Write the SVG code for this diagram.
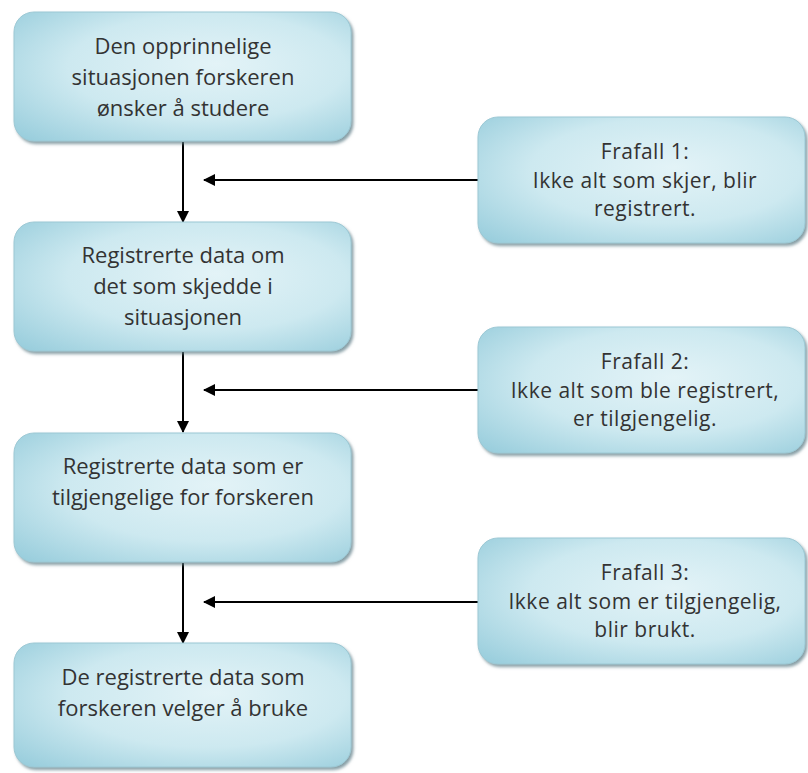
<svg xmlns="http://www.w3.org/2000/svg" width="808" height="773" viewBox="0 0 808 773">
  <defs>
    <radialGradient id="boxFill" cx="0.55" cy="0.45" r="0.75" fx="0.6" fy="0.4">
      <stop offset="0" stop-color="#e3f3f7"/>
      <stop offset="0.55" stop-color="#cde9f0"/>
      <stop offset="1" stop-color="#98cddc"/>
    </radialGradient>
    <filter id="shadow" x="-5%" y="-5%" width="112%" height="115%">
      <feDropShadow dx="2" dy="2.5" stdDeviation="1.5" flood-color="#5f7f88" flood-opacity="0.75"/>
    </filter>
    <marker id="arrow" viewBox="0 0 12 12" refX="11" refY="6" markerWidth="12" markerHeight="12" markerUnits="userSpaceOnUse" orient="auto">
      <path d="M0,0 L12,6 L0,12 z" fill="#000"/>
    </marker>
  </defs>
  <style>
    .box { fill: url(#boxFill); stroke: #9cc8d4; stroke-width: 1; filter: url(#shadow); }
    .label { font-family: "Open Sans", "Liberation Sans", sans-serif; font-size: 22px; fill: #333; text-anchor: middle; }
    .side { font-size: 21px; letter-spacing: 0.5px; }
    .conn { stroke: #000; stroke-width: 2; fill: none; marker-end: url(#arrow); }
  </style>
  <rect width="808" height="773" fill="#fff"/>

  <g id="connectors">
    <line class="conn" x1="183" y1="142" x2="183" y2="222"/>
    <line class="conn" x1="183" y1="352" x2="183" y2="432"/>
    <line class="conn" x1="183" y1="563" x2="183" y2="643"/>
    <line class="conn" x1="478" y1="180" x2="204" y2="180"/>
    <line class="conn" x1="478" y1="390" x2="204" y2="390"/>
    <line class="conn" x1="478" y1="602" x2="204" y2="602"/>
  </g>

  <g id="node-situasjon">
    <rect class="box" x="14" y="12" width="337" height="129" rx="20"/>
    <text class="label"><tspan x="183" y="54">Den opprinnelige</tspan><tspan x="183" y="85">situasjonen forskeren</tspan><tspan x="183" y="116">ønsker å studere</tspan></text>
  </g>

  <g id="node-registrert">
    <rect class="box" x="14" y="222" width="337" height="129" rx="20"/>
    <text class="label"><tspan x="183" y="263">Registrerte data om</tspan><tspan x="183" y="294">det som skjedde i</tspan><tspan x="183" y="325">situasjonen</tspan></text>
  </g>

  <g id="node-tilgjengelig">
    <rect class="box" x="14" y="433" width="337" height="129" rx="20"/>
    <text class="label"><tspan x="183" y="474">Registrerte data som er</tspan><tspan x="183" y="505">tilgjengelige for forskeren</tspan></text>
  </g>

  <g id="node-brukt">
    <rect class="box" x="14" y="643" width="337" height="124" rx="20"/>
    <text class="label"><tspan x="183" y="685">De registrerte data som</tspan><tspan x="183" y="716">forskeren velger å bruke</tspan></text>
  </g>

  <g id="node-frafall1">
    <rect class="box" x="478" y="117" width="327" height="126" rx="20"/>
    <text class="label side"><tspan x="645" y="159">Frafall 1:</tspan><tspan x="645" y="187.5">Ikke alt som skjer, blir</tspan><tspan x="645" y="216">registrert.</tspan></text>
  </g>

  <g id="node-frafall2">
    <rect class="box" x="478" y="327" width="327" height="126" rx="20"/>
    <text class="label side"><tspan x="645" y="369">Frafall 2:</tspan><tspan x="645" y="397.5">Ikke alt som ble registrert,</tspan><tspan x="645" y="426">er tilgjengelig.</tspan></text>
  </g>

  <g id="node-frafall3">
    <rect class="box" x="478" y="538" width="327" height="126" rx="20"/>
    <text class="label side"><tspan x="645" y="580">Frafall 3:</tspan><tspan x="645" y="608.5">Ikke alt som er tilgjengelig,</tspan><tspan x="645" y="637">blir brukt.</tspan></text>
  </g>
</svg>
